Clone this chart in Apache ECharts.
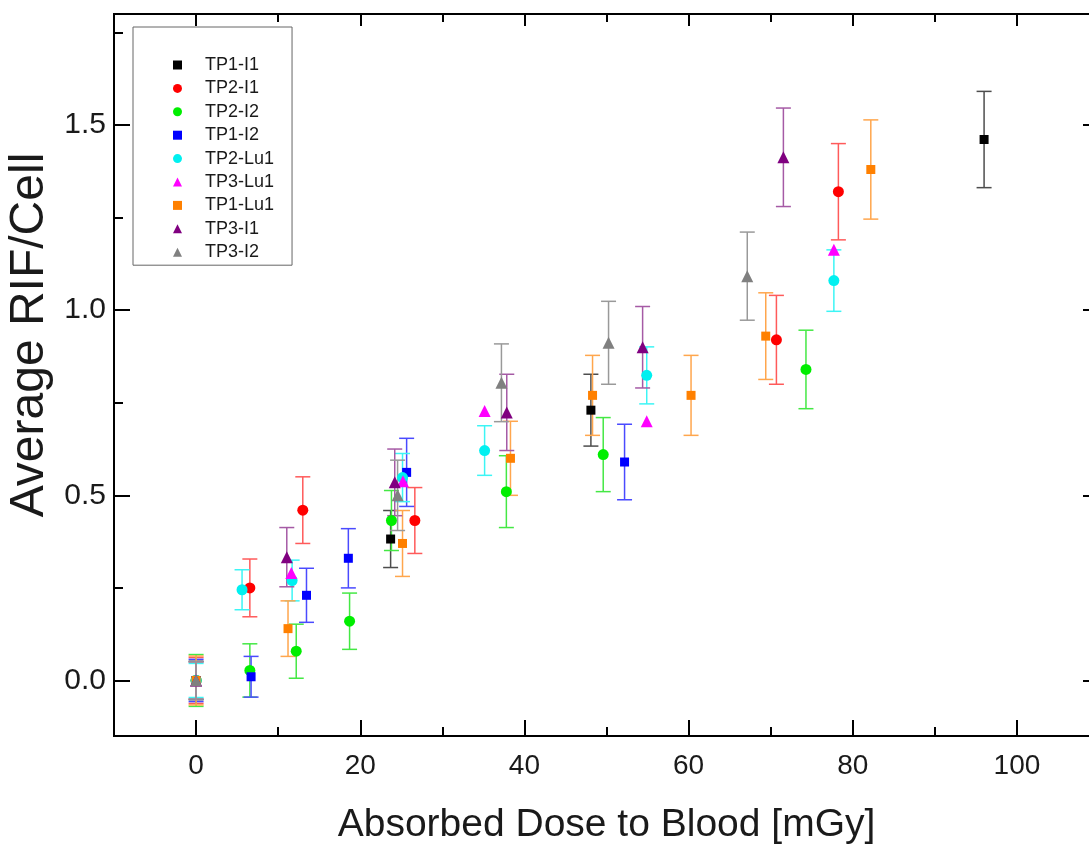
<!DOCTYPE html>
<html><head><meta charset="utf-8">
<script src="https://cdn.jsdelivr.net/npm/echarts@6/dist/echarts.min.js"></script>
<style>html,body{margin:0;padding:0;background:#fff}#c{width:1089px;height:844px}</style>
</head><body><div id="c"></div>
<script>
// ---- data ----
const seriesNames = ['TP1-I1','TP2-I1','TP2-I2','TP1-I2','TP2-Lu1','TP3-Lu1','TP1-Lu1','TP3-I1','TP3-I2'];

const tp1i1X   = [0, 23.7, 48.1, 96.0];
const tp1i1Y   = [0, 0.382, 0.73, 1.461];
const tp1i1Err = [0.052, 0.077, 0.097, 0.13];

const tp2i1X   = [0, 6.55, 13.0, 26.65, 70.7, 78.25];
const tp2i1Y   = [0, 0.25, 0.46, 0.432, 0.92, 1.32];
const tp2i1Err = [0.062, 0.078, 0.09, 0.089, 0.12, 0.13];

const tp2i2X   = [0, 6.55, 12.2, 18.7, 23.8, 37.8, 49.6, 74.3];
const tp2i2Y   = [0, 0.027, 0.079, 0.16, 0.432, 0.51, 0.61, 0.84];
const tp2i2Err = [0.07, 0.072, 0.073, 0.076, 0.081, 0.097, 0.1, 0.106];

const tp1i2X   = [0, 6.7, 13.45, 18.55, 25.65, 52.2];
const tp1i2Y   = [0, 0.01, 0.23, 0.33, 0.562, 0.59];
const tp1i2Err = [0.057, 0.055, 0.073, 0.08, 0.092, 0.102];

const tp2lu1X   = [0, 5.6, 11.7, 25.15, 35.15, 54.9, 77.7];
const tp2lu1Y   = [0, 0.245, 0.27, 0.548, 0.621, 0.824, 1.08];
const tp2lu1Err = [0.046, 0.054, 0.055, 0.065, 0.067, 0.077, 0.083];

const tp3lu1X   = [0, 11.6, 25.2, 35.15, 54.9, 77.7];
const tp3lu1Y   = [0, 0.29, 0.538, 0.728, 0.70, 1.163];

const tp1lu1X   = [0, 11.2, 25.15, 38.3, 48.3, 60.3, 69.4, 82.2];
const tp1lu1Y   = [0, 0.14, 0.37, 0.60, 0.77, 0.77, 0.93, 1.38];
const tp1lu1Err = [0.066, 0.075, 0.089, 0.1, 0.108, 0.108, 0.117, 0.134];

const tp3i1X   = [0, 11.05, 24.2, 37.85, 54.4, 71.55];
const tp3i1Y   = [0, 0.333, 0.535, 0.724, 0.90, 1.413];
const tp3i1Err = [0.05, 0.08, 0.09, 0.103, 0.11, 0.133];

const tp3i2X   = [0, 24.55, 37.2, 50.25, 67.15];
const tp3i2Y   = [0, 0.50, 0.804, 0.912, 1.092];
const tp3i2Err = [0.05, 0.095, 0.105, 0.112, 0.119];

const xMajorTicks = [0, 20, 40, 60, 80, 100];
const xMinorTicks = [10, 30, 50, 70, 90];
const yMajorTicks = [0, 0.5, 1.0, 1.5];
const yMinorTicks = [0.25, 0.75, 1.25, 1.75];

const xTitle = 'Absorbed Dose to Blood [mGy]';
const yTitle = 'Average RIF/Cell';

// ---- build ----
const groups = [
  {name:'TP1-I1',  x:tp1i1X,  y:tp1i1Y,  e:tp1i1Err,  color:'#000000', err:'#4d4d4d', symbol:'rect',     size:9},
  {name:'TP2-I1',  x:tp2i1X,  y:tp2i1Y,  e:tp2i1Err,  color:'#ff0000', err:'#ff5a5a', symbol:'circle',   size:11},
  {name:'TP2-I2',  x:tp2i2X,  y:tp2i2Y,  e:tp2i2Err,  color:'#00ee00', err:'#44e844', symbol:'circle',   size:11},
  {name:'TP1-I2',  x:tp1i2X,  y:tp1i2Y,  e:tp1i2Err,  color:'#0000ff', err:'#4a4aff', symbol:'rect',     size:9},
  {name:'TP2-Lu1', x:tp2lu1X, y:tp2lu1Y, e:tp2lu1Err, color:'#00f0f0', err:'#3cf5f5', symbol:'circle',   size:11},
  {name:'TP3-Lu1', x:tp3lu1X, y:tp3lu1Y, e:null,      color:'#ff00ff', err:'#ff55ff', symbol:'triangle', size:12},
  {name:'TP1-Lu1', x:tp1lu1X, y:tp1lu1Y, e:tp1lu1Err, color:'#ff8000', err:'#ffa64d', symbol:'rect',     size:9},
  {name:'TP3-I1',  x:tp3i1X,  y:tp3i1Y,  e:tp3i1Err,  color:'#800080', err:'#a55aa5', symbol:'triangle', size:12},
  {name:'TP3-I2',  x:tp3i2X,  y:tp3i2Y,  e:tp3i2Err,  color:'#808080', err:'#999999', symbol:'triangle', size:12}
];

const FONT = 'Liberation Sans, Arial, sans-serif';
const AX = '#000';

function makeErr(color){
  return function(params, api){
    const x = api.value(0), y = api.value(1), e = api.value(2);
    const t = api.coord([x, y + e]);
    const b = api.coord([x, y - e]);
    const hw = 7.5;
    const st = {stroke: color, lineWidth: 1.5, fill: null};
    return {type:'group', children:[
      {type:'line', shape:{x1:t[0], y1:t[1], x2:b[0], y2:b[1]}, style:st},
      {type:'line', shape:{x1:t[0]-hw, y1:t[1], x2:t[0]+hw, y2:t[1]}, style:st},
      {type:'line', shape:{x1:b[0]-hw, y1:b[1], x2:b[0]+hw, y2:b[1]}, style:st}
    ]};
  };
}

const series = [];
groups.forEach(g => {
  if (g.e) {
    series.push({
      type:'custom', name:g.name + ' error', xAxisIndex:0, yAxisIndex:0, z:2,
      renderItem: makeErr(g.err), silent:true,
      data: g.x.map((v,i) => [v, g.y[i], g.e[i]]),
      encode:{x:0, y:1}
    });
  }
});
groups.forEach(g => {
  series.push({
    type:'scatter', name:g.name, xAxisIndex:0, yAxisIndex:0, z:3,
    symbol:g.symbol, symbolSize:g.size,
    itemStyle:{color:g.color, opacity:1},
    data: g.x.map((v,i) => [v, g.y[i]])
  });
});

function xAx(pos, ticks, len, labels, extra){
  return Object.assign({
    type:'value', position:pos, min:-10, max:110,
    axisLine:{show:true, onZero:false, lineStyle:{color:AX, width:2}},
    axisTick:{show:true, inside:true, length:len, customValues:ticks, lineStyle:{color:AX, width:2}},
    axisLabel: labels ? {show:true, customValues:ticks, fontSize:28, fontFamily:FONT, color:'#1a1a1a', margin:16} : {show:false},
    splitLine:{show:false}, minorTick:{show:false}
  }, extra || {});
}
function yAx(pos, ticks, len, labels, extra){
  return Object.assign({
    type:'value', position:pos, min:-0.15, max:1.8,
    axisLine:{show:true, onZero:false, lineStyle:{color:AX, width:2}},
    axisTick:{show:true, inside:true, length:len, customValues:ticks, lineStyle:{color:AX, width:2}},
    axisLabel: labels ? {show:true, customValues:ticks, fontSize:30, fontFamily:FONT, color:'#1a1a1a', margin:8,
                         formatter: v => v.toFixed(1)} : {show:false},
    splitLine:{show:false}, minorTick:{show:false}
  }, extra || {});
}

const option = {
  backgroundColor:'#ffffff',
  animation:false,
  grid:{left:114, right:-10, top:14, bottom:108, containLabel:false, outerBoundsMode:'none'},
  xAxis:[
    xAx('bottom', xMajorTicks, 16, true, {
      name:xTitle, nameLocation:'middle', nameGap:70,
      nameTextStyle:{fontSize:39, fontFamily:FONT, color:'#1a1a1a'}
    }),
    xAx('bottom', xMinorTicks, 9, false),
    xAx('top', xMajorTicks, 12, false),
    xAx('top', xMinorTicks, 8, false)
  ],
  yAxis:[
    yAx('left', yMajorTicks, 16, true),
    yAx('left', yMinorTicks, 9, false),
    yAx('right', yMajorTicks, 16, false),
    yAx('right', yMinorTicks, 9, false)
  ],
  graphic:[{
    type:'text', x:30, y:335, rotation:Math.PI/2,
    style:{text:yTitle, fontSize:48, fontFamily:FONT, fill:'#1a1a1a', align:'center', verticalAlign:'middle'}
  }],
  legend:{
    data: seriesNames, orient:'vertical', left:133, top:27,
    padding:[29, 18, 4, 40], itemWidth:9, itemHeight:9, itemGap:5.4,
    selectedMode:false,
    textStyle:{fontSize:18, fontFamily:FONT, color:'#1a1a1a', lineHeight:18, padding:[0,0,0,18]},
    borderColor:'#666', borderWidth:1, backgroundColor:'#fff'
  },
  series: series
};

const chart = echarts.init(document.getElementById('c'), null, {renderer:'canvas'});
chart.setOption(option);
</script>
</body></html>
